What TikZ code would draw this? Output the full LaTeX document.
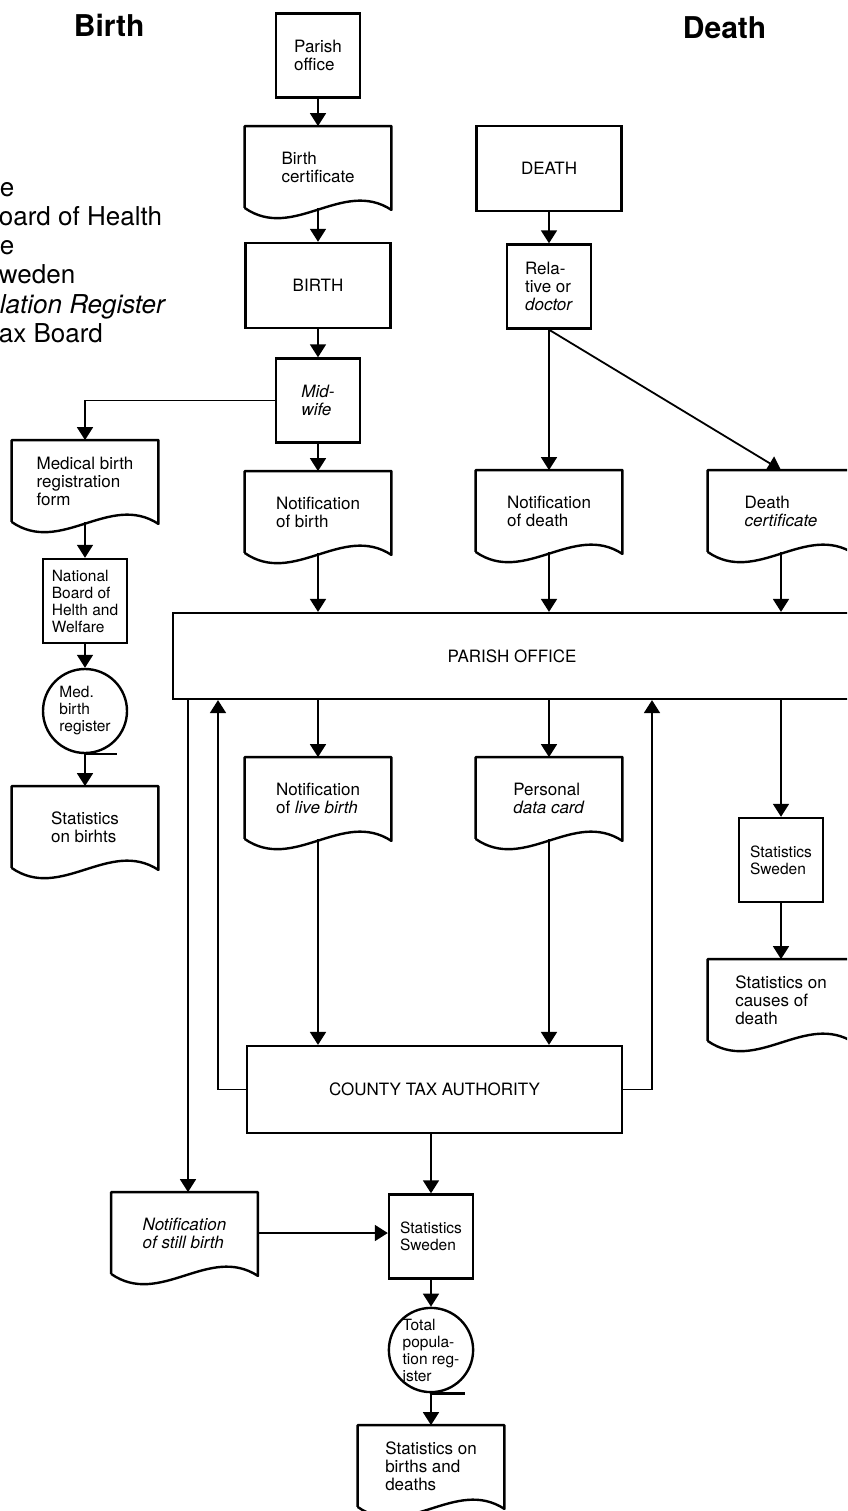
\documentclass[tikz,border=0pt]{standalone}
\usepackage{fontspec}
\setmainfont{TeX Gyre Heros}
\usetikzlibrary{positioning,calc,arrows.meta}

\newcommand{\boxfont}{\fontsize{17}{18}\selectfont}
\newcommand{\smallfont}{\fontsize{15.5}{17}\selectfont}

%document symbol with wavy lower edge
\newcommand{\docedge}[1]{%
  \draw[docline] (#1.south west) -- (#1.north west) -- (#1.north east)
    -- ($(#1.south east)+(0,2)$)
    .. controls ($(#1.south west)!0.667!(#1.south east)+(0,-30)$)
    and ($(#1.south west)!0.333!(#1.south east)+(0,34)$) .. (#1.south west);}

\begin{document}
\begin{tikzpicture}[x=1pt, y=-1pt, line width=1.8pt,
  arrow/.style={-{Triangle[length=13pt,width=16pt]}},
  smallbox/.style={draw, line width=2.4pt, minimum width=84pt, minimum height=84pt, inner sep=0pt, align=left, font=\boxfont},
  bigbox/.style={smallbox, minimum width=145pt, minimum height=85pt},
  doc/.style={minimum width=145pt, minimum height=80pt, inner sep=0pt, align=left, font=\boxfont},
  docline/.style={line width=2.4pt, line join=round},
  regcircle/.style={circle, draw, line width=2.4pt, minimum size=84pt, inner sep=0pt, align=left, font=\smallfont},
  office/.style={draw, line width=2.2pt, inner sep=0pt, font=\boxfont},
  title/.style={anchor=base west, inner sep=0pt, font=\fontsize{30}{36}\selectfont\bfseries},
  legend/.style={anchor=base west, inner sep=0pt, font=\fontsize{26}{29}\selectfont}]

\useasboundingbox (0,0) rectangle (847,1511);
\clip (0,0) rectangle (847,1511);

%titles
\node[title] (tbirth) at (73,37) {Birth};
\node[title] (tdeath) at (682,39) {Death};

%legend, cut off at the left edge
\node[legend] (l1) at (-1,197) {e};
\node[legend] (l2) at (-2,226) {oard of Health};
\node[legend] (l3) at (-1,255) {e};
\node[legend] (l4) at (-2,284) {weden};
\node[legend] (l5) at (-1,313) {\itshape lation Register};
\node[legend] (l6) at (-2,342) {ax Board};

%birth column
\node[smallbox] (po) at (318,55.5) {Parish\\office};
\node[doc] (bcert) at (318,167) {Birth\\certificate};
\node[bigbox] (birth) at (318,285.5) {BIRTH};
\node[smallbox] (mw) at (318,400.5) {\textit{Mid-}\\\textit{wife}};
\node[doc] (nob) at (318,512) {Notification\\of birth};

%medical register column
\node[doc] (mbf) at (85,481) {Medical birth\\registration\\form};
\node[smallbox, font=\smallfont] (nbhw) at (85,601) {National\\Board of\\Helth and\\Welfare};
\node[regcircle] (mbr) at (85,711) {Med.\\birth\\register};
\node[doc] (sob) at (85,827) {Statistics\\on birhts};

%death column
\node[bigbox] (death) at (549,168.5) {DEATH};
\node[smallbox] (rel) at (549,286.5) {Rela-\\tive or\\\textit{doctor}};
\node[doc] (nod) at (549,511) {Notification\\of death};
\node[doc] (dcert) at (781,511) {Death\\\textit{certificate}};

%parish office
\node[office, minimum width=678pt, minimum height=86pt] (parish) at (512,656) {PARISH OFFICE};

\node[doc] (nlb) at (318,798) {Notification\\of \textit{live birth}};
\node[doc] (pdc) at (549,798) {Personal\\\textit{data card}};
\node[smallbox, font=\smallfont] (ssr) at (781,860) {Statistics\\Sweden};
\node[doc] (socd) at (781,1000) {Statistics on\\causes of\\death};

%county tax authority and below
\node[office, minimum width=375pt, minimum height=87pt] (cta) at (434.5,1089.5) {COUNTY TAX AUTHORITY};
\node[doc] (nsb) at (184.5,1233) {\textit{Notification}\\\textit{of still birth}};
\node[smallbox, font=\smallfont] (ssb) at (431,1236.5) {Statistics\\Sweden};
\node[regcircle] (tpr) at (431,1350) {Total\\popula-\\tion reg-\\ister};
\node[doc] (sbd) at (431,1466) {Statistics on\\births and\\deaths};

%document outlines
\foreach \d in {bcert,nob,mbf,sob,nod,dcert,nlb,pdc,socd,nsb,sbd}
  \docedge{\d};

%register lines
\draw[line width=2.4pt] (mbr.south) -- ++(32,0);
\draw[line width=2.4pt] (tpr.south) -- ++(34,0);

%arrows in the birth column
\draw[arrow] (po) -- (bcert);
\draw[arrow] (bcert) -- (birth);
\draw[arrow] (birth) -- (mw);
\draw[arrow] (mw) -- (nob);
\draw[arrow] (mw.west) -| (mbf.north);
\draw[arrow] (mbf) -- (nbhw);
\draw[arrow] (nbhw) -- (mbr);
\draw[arrow] (mbr) -- (sob);

%arrows in the death column
\draw[arrow] (death) -- (rel);
\draw[arrow] (rel) -- (nod);
\draw[arrow] (rel.south) -- (dcert.north);

%into and out of the parish office
\draw[arrow] (nob.south) -- (nob.south |- parish.north);
\draw[arrow] (nod.south) -- (nod.south |- parish.north);
\draw[arrow] (dcert.south) -- (dcert.south |- parish.north);
\draw[arrow] (nlb.north |- parish.south) -- (nlb.north);
\draw[arrow] (pdc.north |- parish.south) -- (pdc.north);
\draw[arrow] (ssr.north |- parish.south) -- (ssr.north);
\draw[arrow] (ssr) -- (socd);

%county tax authority
\coordinate (upL) at (218,0);
\coordinate (upR) at (652,0);
\coordinate (dnL) at (188,0);
\draw[arrow] (nlb.south) -- (nlb.south |- cta.north);
\draw[arrow] (pdc.south) -- (pdc.south |- cta.north);
\draw[arrow] (cta.west) -| (upL |- parish.south);
\draw[arrow] (cta.east) -| (upR |- parish.south);
\draw[arrow] (dnL |- parish.south) -- (dnL |- nsb.north);
\draw[arrow] (nsb.east) -- (nsb.east -| ssb.west);
\draw[arrow] (ssb.north |- cta.south) -- (ssb.north);
\draw[arrow] (ssb) -- (tpr);
\draw[arrow] (tpr) -- (sbd);

\end{tikzpicture}
\end{document}
